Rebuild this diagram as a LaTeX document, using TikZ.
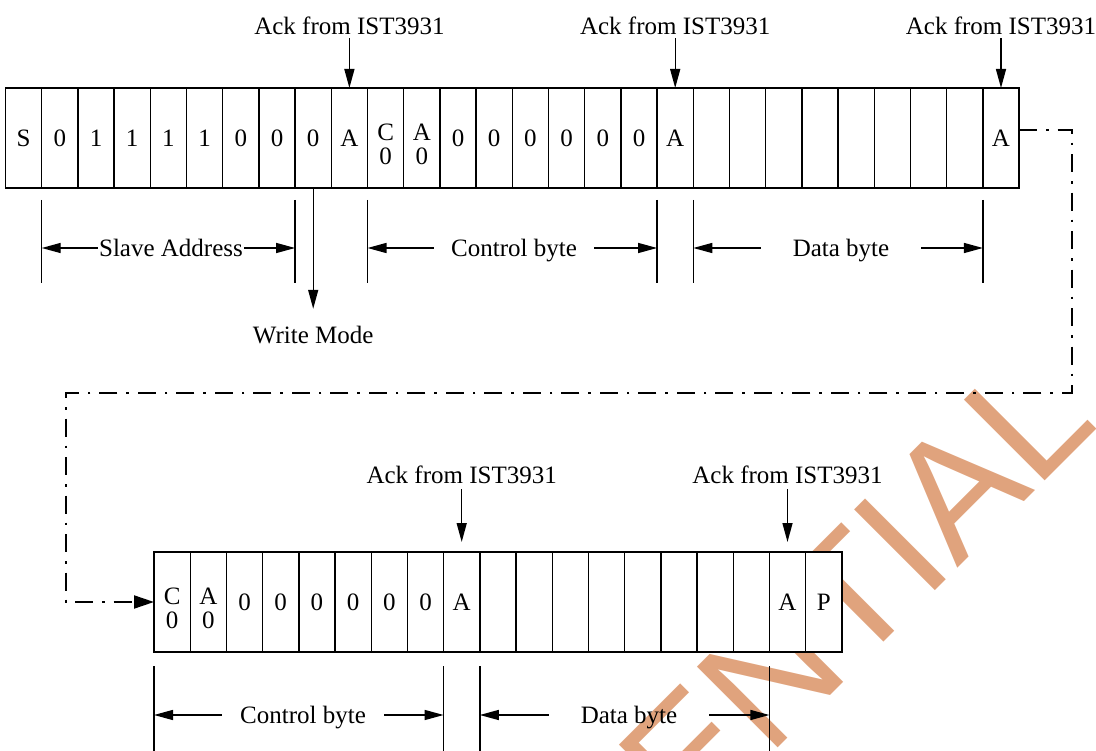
\documentclass[tikz,border=0pt]{standalone}
\usepackage{fontspec}
\setmainfont{Liberation Serif}
\newfontfamily\wmfamily{Liberation Sans}
\usetikzlibrary{arrows.meta}
\definecolor{wmorange}{RGB}{224,163,125}
\newcommand\txtfont{\fontsize{25}{27}\selectfont}
\newcommand\wmsize{\wmfamily\fontsize{166}{166}\selectfont}
\begin{document}
\begin{tikzpicture}[x=1pt,y=-1pt,
  cell/.style={draw, fill=white, line width=1.4pt, minimum width=36.2pt, minimum height=100pt, inner sep=0pt, outer sep=0pt, font=\txtfont},
  lbl/.style={font=\txtfont, inner sep=0pt, text height=17pt, text depth=0pt},
  ackarrow/.style={line width=1.4pt, -{Triangle[length=19pt,width=10pt]}},
  dimarrow/.style={line width=1.4pt, -{Triangle[length=19pt,width=10pt]}},
  tickline/.style={line width=1.4pt},
  flow/.style={line width=2pt, dash pattern=on 18pt off 9pt on 2.5pt off 9pt, -{Triangle[length=20pt,width=13pt]}},
  watermark/.style={font=\wmsize, text=wmorange, inner sep=0pt, rotate=45, anchor=base west}
]
\useasboundingbox (0,0) rectangle (1096,751);
\clip (0,0) rectangle (1096,751);

% watermark (behind everything)
\node[watermark] (wmk) at (240,1286) {CONFIDENTIAL};

% top row of cells
\foreach \i/\t in {0/S,1/0,2/1,3/1,4/1,5/1,6/0,7/0,8/0,9/A,10/{},11/{},12/0,13/0,14/0,15/0,16/0,17/0,18/A,19/{},20/{},21/{},22/{},23/{},24/{},25/{},26/{},27/A}
  \node[cell] (t\i) at ({5.5+36.2*(\i+0.5)},138) {\t};
\node[lbl] (t10a) at ([yshift=6pt]t10.center) {C};
\node[lbl] (t10b) at ([yshift=-18pt]t10.center) {0};
\node[lbl] (t11a) at ([yshift=6pt]t11.center) {A};
\node[lbl] (t11b) at ([yshift=-18pt]t11.center) {0};

% bottom row of cells
\foreach \i/\t in {0/{},1/{},2/0,3/0,4/0,5/0,6/0,7/0,8/A,9/{},10/{},11/{},12/{},13/{},14/{},15/{},16/{},17/A,18/P}
  \node[cell] (b\i) at ({154+36.2*(\i+0.5)},602) {\t};
\node[lbl] (b0a) at ([yshift=6pt]b0.center) {C};
\node[lbl] (b0b) at ([yshift=-18pt]b0.center) {0};
\node[lbl] (b1a) at ([yshift=6pt]b1.center) {A};
\node[lbl] (b1b) at ([yshift=-18pt]b1.center) {0};

% Ack labels and arrows
\node[lbl, anchor=base] (ack1) at (t9.north |- 0,35) {Ack from IST3931};
\node[lbl, anchor=base] (ack2) at (t18.north |- 0,35) {Ack from IST3931};
\node[lbl, anchor=base] (ack3) at (t27.north |- 0,35) {Ack from IST3931};
\draw[ackarrow] ([yshift=-3pt]ack1.south) -- (t9.north);
\draw[ackarrow] ([yshift=-3pt]ack2.south) -- (t18.north);
\draw[ackarrow] ([yshift=-3pt]ack3.south) -- (t27.north);

\node[lbl, anchor=base] (ack4) at (b8.north |- 0,483) {Ack from IST3931};
\node[lbl, anchor=base] (ack5) at (b17.north |- 0,483) {Ack from IST3931};
\draw[ackarrow] ([yshift=-6pt]ack4.south) -- ([yshift=10pt]b8.north);
\draw[ackarrow] ([yshift=-6pt]ack5.south) -- ([yshift=10pt]b17.north);

% Write mode
\node[lbl, anchor=base] (wm) at (t8.south |- 0,344) {Write Mode};
\draw[ackarrow] (t8.south) -- ([yshift=18pt]wm.north);

% top dimension ticks
\foreach \n in {t1,t8,t10,t18,t19,t27}
  \draw[tickline] (\n.south west |- 0,200) -- (\n.south west |- 0,283);

% top dimension labels
\node[lbl, anchor=base, inner xsep=1pt] (sa) at (171,256.5) {Slave Address};
\draw[dimarrow] (sa.west) -- (sa.west -| t1.south west);
\draw[dimarrow] (sa.east) -- (sa.east -| t8.south west);

\node[lbl, anchor=base, inner xsep=17pt] (cb1) at (514,256.5) {Control byte};
\draw[dimarrow] (cb1.west) -- (cb1.west -| t10.south west);
\draw[dimarrow] (cb1.east) -- (cb1.east -| t18.south west);

\node[lbl, anchor=base, inner xsep=32pt] (db1) at (841,256.5) {Data byte};
\draw[dimarrow] (db1.west) -- (db1.west -| t19.south west);
\draw[dimarrow] (db1.east) -- (db1.east -| t27.south west);

% bottom dimension ticks
\foreach \n in {b0,b8,b9,b17}
  \draw[tickline] (\n.south west |- 0,666) -- (\n.south west |- 0,760);

\node[lbl, anchor=base, inner xsep=18pt] (cb2) at (303,723.5) {Control byte};
\draw[dimarrow] (cb2.west) -- (cb2.west -| b0.south west);
\draw[dimarrow] (cb2.east) -- (cb2.east -| b8.south west);

\node[lbl, anchor=base, inner xsep=32pt] (db2) at (629,723.5) {Data byte};
\draw[dimarrow] (db2.west) -- (db2.west -| b9.south west);
\draw[dimarrow] (db2.east) -- (db2.east -| b17.south west);

% continuation connector
\draw[flow] (t27.east |- 0,130) -| (1072,393) -| (66,602) -- (b0.west);
\end{tikzpicture}
\end{document}
